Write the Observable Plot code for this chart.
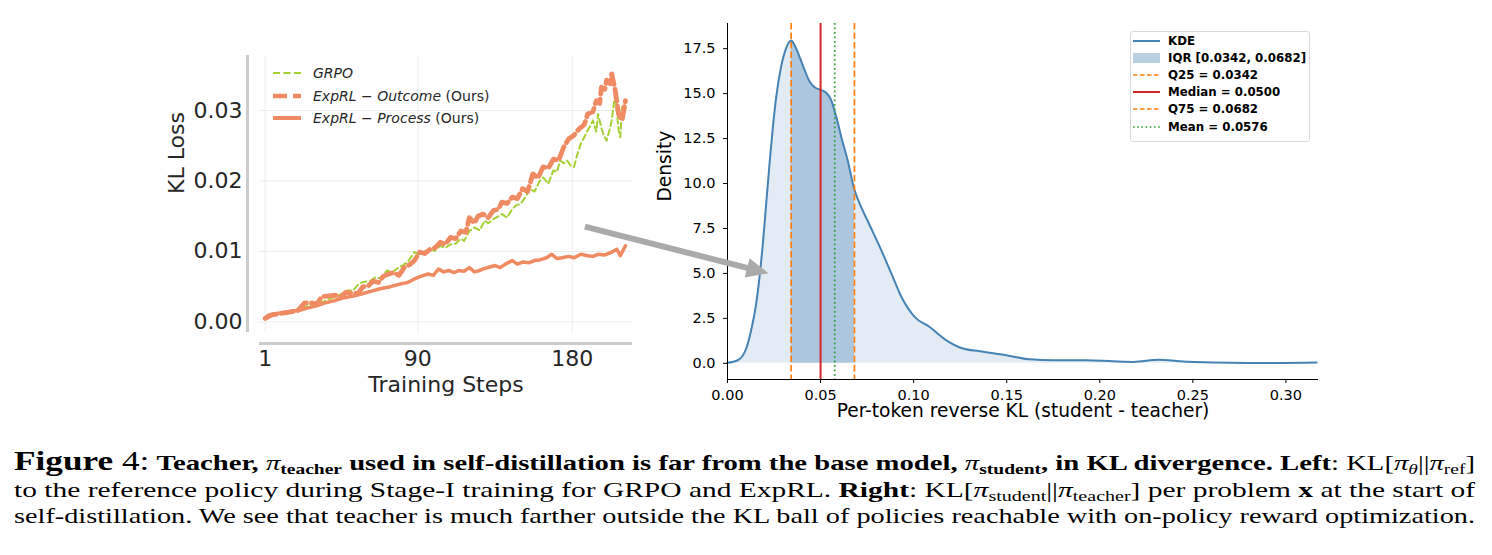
<!DOCTYPE html>
<html>
<head>
<meta charset="utf-8">
<script src="https://cdn.jsdelivr.net/npm/d3@7"></script>
<script src="https://cdn.jsdelivr.net/npm/@observablehq/plot@0.6"></script>
<style>
  body { margin: 0; background: #fff; }
  #fig { position: relative; width: 1492px; height: 555px; overflow: hidden; font-family: "DejaVu Sans", sans-serif; background: #fff; }
  #left, #right { position: absolute; }
  #left { left: 140px; top: 40px; }
  #right { left: 560px; top: 0px; }
  .legrow { position: absolute; display: flex; align-items: center; white-space: nowrap; }
  .legrow svg { display: block; flex: none; }
  #lleg .legrow { font-size: 14px; color: #262626; }
  #rleg { position: absolute; left: 1130px; top: 31px; width: 180px; height: 111px; border: 1px solid #d9d9d9; border-radius: 3px; box-sizing: border-box; background: rgba(255,255,255,0.8); }
  #rleg .legrow { font-size: 11.8px; font-weight: bold; color: #000; }
  #caption { position: absolute; left: 14px; top: 450px; width: 1461px; font-family: "Liberation Serif", serif; font-size: 22px; line-height: 26.5px; color: #000; }
  #caption .ln { height: 26.5px; white-space: nowrap; }
  #caption .in { display: inline-block; transform-origin: 0 50%; white-space: nowrap; }
  #caption .figw { font-size: 27px; font-weight: bold; line-height: 0; }
  #caption .fign { font-size: 27px; line-height: 0; }
  #caption sub { font-size: 0.68em; vertical-align: -0.25em; line-height: 0; }
  #caption i.m { font-weight: normal; }
</style>
</head>
<body>
<div id="fig">
  <div id="left"></div>
  <div id="right"></div>
  <div id="lleg"></div>
  <div id="rleg"></div>
  <div id="caption">
    <div class="ln"><span class="in"><span class="figw">Figure</span><span class="fign"> 4:</span> <b>Teacher, <i class="m">π</i><sub>teacher</sub> used in self-distillation is far from the base model, <i class="m">π</i><sub>student</sub>, in KL divergence. Left</b>: KL[<i>π</i><sub><i>θ</i></sub>||<i>π</i><sub>ref</sub>]</span></div>
    <div class="ln"><span class="in">to the reference policy during Stage-I training for GRPO and ExpRL. <b>Right</b>: KL[<i>π</i><sub>student</sub>||<i>π</i><sub>teacher</sub>] per problem <b>x</b> at the start of</span></div>
    <div class="ln"><span class="in">self-distillation. We see that teacher is much farther outside the KL ball of policies reachable with on-policy reward optimization.</span></div>
  </div>
</div>
<script>
// ---------------- LEFT CHART DATA (KL Loss vs Training Steps) ----------------
const stepsGRPO = [1,5,10,15,20,25,30,34,38,42,46,49,52,56,59,62,65,68,72,75,78,81,84,88,91,94,97,100,103,106,109,112,115,117,120,123,126,129,131,134,137,139,142,145,147,150,153,155,158,161,163,166,169,171,173,175,177,179,181,183,185,187,189,191,192,194,195,197,198,200,202,203,205,207,208,209,211];
const klGRPO = [0.0005,0.0010,0.0013,0.0015,0.0018,0.0022,0.0027,0.0028,0.0032,0.0036,0.0040,0.0045,0.0044,0.0055,0.0057,0.0058,0.0063,0.0062,0.0073,0.0070,0.0076,0.0080,0.0085,0.0099,0.0095,0.0100,0.0103,0.0101,0.0108,0.0105,0.0110,0.0111,0.0118,0.0115,0.0129,0.0134,0.0130,0.0144,0.0140,0.0146,0.0150,0.0153,0.0148,0.0160,0.0165,0.0168,0.0178,0.0189,0.0185,0.0200,0.0205,0.0196,0.0215,0.0213,0.0229,0.0225,0.0229,0.0222,0.0220,0.0238,0.0253,0.0262,0.0272,0.0280,0.0286,0.0270,0.0295,0.0275,0.0267,0.0257,0.0275,0.0286,0.0324,0.0272,0.0262,0.0305,0.0300];

const stepsOutcome = [1,5,10,15,20,24,28,31,34,38,42,45,48,52,55,58,61,64,67,70,73,76,79,82,85,88,91,94,97,100,103,106,109,112,115,118,120,123,125,128,131,134,137,139,142,145,148,151,154,157,160,163,166,169,172,175,178,181,184,187,189,192,194,196,197,199,200,202,203,205,207,209,211];
const klOutcome = [0.0005,0.0010,0.0012,0.0014,0.0016,0.0027,0.0027,0.0025,0.0036,0.0037,0.0038,0.0035,0.0042,0.0041,0.0040,0.0050,0.0051,0.0058,0.0056,0.0065,0.0068,0.0070,0.0066,0.0077,0.0081,0.0087,0.0099,0.0097,0.0103,0.0105,0.0113,0.0110,0.0120,0.0118,0.0129,0.0127,0.0148,0.0140,0.0150,0.0153,0.0148,0.0158,0.0160,0.0170,0.0168,0.0177,0.0175,0.0189,0.0185,0.0210,0.0204,0.0220,0.0218,0.0231,0.0229,0.0248,0.0260,0.0265,0.0274,0.0280,0.0295,0.0298,0.0314,0.0310,0.0333,0.0330,0.0343,0.0338,0.0352,0.0329,0.0295,0.0286,0.0314];

const stepsProcess = [1,3,8,16,22,26,31,36,41,46,51,56,62,68,74,80,84,88,92,96,99,102,105,108,111,114,117,120,123,126,129,132,135,138,141,145,148,151,155,158,161,165,168,171,174,178,181,185,189,192,195,199,203,206,208,211];
const klProcess = [0.0005,0.0010,0.0012,0.0015,0.0017,0.0020,0.0023,0.0027,0.0030,0.0034,0.0036,0.0039,0.0043,0.0047,0.0050,0.0054,0.0056,0.0061,0.0065,0.0068,0.0066,0.0075,0.0071,0.0073,0.0070,0.0073,0.0072,0.0077,0.0071,0.0073,0.0076,0.0078,0.0080,0.0077,0.0082,0.0087,0.0082,0.0085,0.0084,0.0087,0.0088,0.0091,0.0096,0.0090,0.0091,0.0093,0.0091,0.0096,0.0094,0.0093,0.0096,0.0095,0.0099,0.0103,0.0094,0.0108];

const leftXTicks = [1, 90, 180];
const leftYTicks = [0, 0.01, 0.02, 0.03];
const leftSeriesNames = ["GRPO", "ExpRL − Outcome", "ExpRL − Process"];

// ---------------- RIGHT CHART DATA (KDE of per-token reverse KL) ----------------
const kdeX = [0, 0.0055, 0.0100, 0.0127, 0.0154, 0.0172, 0.0190, 0.0208, 0.0226, 0.0244, 0.0262, 0.0288, 0.0315, 0.0342, 0.0360, 0.0387, 0.0414, 0.0441, 0.0468, 0.0504, 0.0530, 0.0557, 0.0584, 0.0611, 0.0647, 0.0682, 0.0701, 0.0754, 0.0826, 0.0880, 0.0934, 0.1005, 0.1086, 0.1176, 0.1265, 0.1355, 0.1498, 0.1624, 0.1750, 0.1930, 0.2072, 0.2180, 0.2320, 0.2430, 0.2610, 0.2790, 0.2970, 0.3165];
const kdeDensity = [0.03, 0.17, 0.81, 1.84, 3.32, 4.8, 6.66, 8.89, 11.12, 13.16, 14.83, 16.5, 17.52, 17.95, 17.7, 17.05, 16.32, 15.67, 15.35, 15.2, 15.05, 14.64, 13.72, 12.6, 11.23, 9.65, 9.1, 7.9, 6.3, 5.0, 3.7, 2.58, 2.02, 1.28, 0.82, 0.67, 0.45, 0.22, 0.17, 0.17, 0.11, 0.08, 0.2, 0.11, 0.04, 0.02, 0.02, 0.04];
const q25 = 0.0342, medianKL = 0.0500, q75 = 0.0682, meanKL = 0.0576;
const rightXTicks = [0, 0.05, 0.10, 0.15, 0.20, 0.25, 0.30];
const rightYTicks = [0, 2.5, 5, 7.5, 10, 12.5, 15, 17.5];
const rightLegendLabels = ["KDE", "IQR [0.0342, 0.0682]", "Q25 = 0.0342", "Median = 0.0500", "Q75 = 0.0682", "Mean = 0.0576"];

// annotation arrow (in right-chart data units): from left panel to the KDE
const arrowTail = {x: -0.0766, y: 7.60};
const arrowTip = {x: 0.0220, y: 5.01};

// ---------------- styles ----------------
const cGRPO = "#a6cf35", cSalmon = "#ef8a62";
const cKDE = "steelblue", cOrange = "#ff7f0e", cRed = "#d62728", cGreen = "#2ca02c";

const zip = (xs, ys) => xs.map((x, i) => ({x, y: ys[i]}));
const grpo = zip(stepsGRPO, klGRPO);
const outcome = zip(stepsOutcome, klOutcome);
const process = zip(stepsProcess, klProcess);

const lxDom = [-2.3, 215.1], lyDom = [-0.0015, 0.0378];

const left = Plot.plot({
  width: 510, height: 370,
  marginLeft: 119, marginRight: 18, marginTop: 15, marginBottom: 78,
  style: {background: "transparent", overflow: "visible", fontFamily: "DejaVu Sans", color: "#262626"},
  x: {domain: lxDom},
  y: {domain: lyDom},
  marks: [
    Plot.gridX(leftXTicks, {stroke: "#ececec", strokeOpacity: 1, strokeWidth: 1}),
    Plot.gridY(leftYTicks, {stroke: "#ececec", strokeOpacity: 1, strokeWidth: 1}),
    Plot.ruleX([lxDom[0]], {dx: -12, stroke: "#cccccc", strokeWidth: 3}),
    Plot.ruleY([lyDom[0]], {dy: 11, stroke: "#cccccc", strokeWidth: 3}),
    Plot.axisX(leftXTicks, {tickSize: 0, tickPadding: 18, fontSize: 22, label: null}),
    Plot.axisY(leftYTicks, {tickSize: 0, tickPadding: 17, fontSize: 22, tickFormat: d => d.toFixed(2), label: null}),
    Plot.text(["Training Steps"], {frameAnchor: "bottom", dy: 52, lineAnchor: "middle", fontSize: 22, fill: "#262626"}),
    Plot.text(["KL Loss"], {frameAnchor: "left", dx: -83, rotate: -90, lineAnchor: "middle", fontSize: 22, fill: "#262626"}),
    Plot.line(grpo, {x: "x", y: "y", stroke: cGRPO, strokeWidth: 2, strokeDasharray: "6,3.5"}),
    Plot.line(outcome, {x: "x", y: "y", stroke: cSalmon, strokeWidth: 4.8, strokeDasharray: "12,5"}),
    Plot.line(process, {x: "x", y: "y", stroke: cSalmon, strokeWidth: 3.5, strokeLinejoin: "round"})
  ]
});
document.getElementById("left").appendChild(left);

const kde = zip(kdeX, kdeDensity);
const iqr = kde.filter(d => d.x >= q25 && d.x <= q75);
const rxDom = [0, 0.3175], ryDom = [-0.9, 18.9];

function rightPlot(extra) {
  return Plot.plot({
    width: 780, height: 430,
    marginLeft: 167, marginRight: 22, marginTop: 23, marginBottom: 51,
    style: {background: "transparent", overflow: "visible", fontFamily: "DejaVu Sans", color: "#000"},
    x: {domain: rxDom},
    y: {domain: ryDom},
    marks: [
      Plot.areaY(kde, {x: "x", y: "y", fill: cKDE, fillOpacity: 0.15, curve: "monotone-x"}),
      Plot.areaY(iqr, {x: "x", y: "y", fill: cKDE, fillOpacity: 0.35, curve: "monotone-x"}),
      Plot.line(kde, {x: "x", y: "y", stroke: cKDE, strokeWidth: 2, curve: "monotone-x"}),
      Plot.ruleX([q25], {stroke: cOrange, strokeWidth: 1.7, strokeDasharray: "6.5,3"}),
      Plot.ruleX([medianKL], {stroke: cRed, strokeWidth: 2}),
      Plot.ruleX([q75], {stroke: cOrange, strokeWidth: 1.7, strokeDasharray: "6.5,3"}),
      Plot.ruleX([meanKL], {stroke: cGreen, strokeWidth: 1.7, strokeDasharray: "1.7,2.8"}),
      Plot.ruleX([rxDom[0]], {stroke: "#000", strokeWidth: 1}),
      Plot.ruleY([ryDom[0]], {stroke: "#000", strokeWidth: 1}),
      Plot.axisX(rightXTicks, {tickSize: 4, tickPadding: 6, fontSize: 14.5, tickFormat: d => d.toFixed(2), label: null}),
      Plot.axisY(rightYTicks, {tickSize: 4, tickPadding: 8, fontSize: 14.5, tickFormat: d => d.toFixed(1), label: null}),
      Plot.text(["Per-token reverse KL (student - teacher)"], {frameAnchor: "bottom", dy: 32, lineAnchor: "middle", fontSize: 18.6}),
      Plot.text(["Density"], {frameAnchor: "left", dx: -62, rotate: -90, lineAnchor: "middle", fontSize: 18.6}),
      ...extra
    ]
  });
}
const probe = rightPlot([]);
const sx = probe.scale("x"), sy = probe.scale("y");
const adx = sx.apply(arrowTip.x) - sx.apply(arrowTail.x);
const ady = sy.apply(arrowTip.y) - sy.apply(arrowTail.y);
const aLen = Math.hypot(adx, ady);
const aRot = Math.atan2(adx, -ady) * 180 / Math.PI;
const arrowShape = {
  draw(ctx, l) {
    const w = 3, hl = 22, hw = 10;
    ctx.moveTo(-w, 0);
    ctx.lineTo(-w, -(l - hl));
    ctx.lineTo(-hw, -(l - hl));
    ctx.lineTo(0, -l);
    ctx.lineTo(hw, -(l - hl));
    ctx.lineTo(w, -(l - hl));
    ctx.lineTo(w, 0);
    ctx.closePath();
  }
};
const right = rightPlot([
  Plot.vector([arrowTip], {x: "x", y: "y", length: aLen, rotate: aRot, anchor: "end", shape: arrowShape, fill: "#aaaaaa", stroke: "none"})
]);
document.getElementById("right").appendChild(right);

// ---------------- legends ----------------
function handleSvg(kind, w, h) {
  const ns = "http://www.w3.org/2000/svg";
  const s = document.createElementNS(ns, "svg");
  s.setAttribute("width", w); s.setAttribute("height", h);
  const mk = (tag, attrs) => { const e = document.createElementNS(ns, tag); for (const k in attrs) e.setAttribute(k, attrs[k]); s.appendChild(e); };
  const line = (stroke, sw, dash) => mk("line", {x1: 0, x2: w, y1: h / 2, y2: h / 2, stroke, "stroke-width": sw, ...(dash ? {"stroke-dasharray": dash} : {})});
  switch (kind) {
    case "grpo": line(cGRPO, 2, "7,3.5"); break;
    case "outcome": line(cSalmon, 4.5, "14,6"); break;
    case "process": line(cSalmon, 4, null); break;
    case "kde": line(cKDE, 2, null); break;
    case "iqr": mk("rect", {x: 0, y: h / 2 - 5, width: w, height: 10, fill: cKDE, "fill-opacity": 0.38}); break;
    case "q": line(cOrange, 1.7, "4.5,2.5"); break;
    case "median": line(cRed, 2, null); break;
    case "mean": line(cGreen, 1.7, "1.6,2.6"); break;
  }
  return s;
}
const lleg = document.getElementById("lleg");
const lKinds = ["grpo", "outcome", "process"];
leftSeriesNames.forEach((name, i) => {
  const row = document.createElement("div");
  row.className = "legrow";
  row.style.left = "273px";
  row.style.top = (73 + i * 22.5 - 9) + "px";
  row.style.height = "18px";
  row.appendChild(handleSvg(lKinds[i], 28, 12));
  const t = document.createElement("span");
  t.style.marginLeft = "12px";
  const it = document.createElement("i");
  it.textContent = name;
  t.appendChild(it);
  if (i > 0) t.appendChild(document.createTextNode(" (Ours)"));
  row.appendChild(t);
  lleg.appendChild(row);
});
const rleg = document.getElementById("rleg");
const rKinds = ["kde", "iqr", "q", "median", "q", "mean"];
rightLegendLabels.forEach((label, i) => {
  const row = document.createElement("div");
  row.className = "legrow";
  row.style.left = "2px";
  row.style.top = (8.5 + i * 17.2 - 8) + "px";
  row.style.height = "16px";
  row.appendChild(handleSvg(rKinds[i], 27, 12));
  const t = document.createElement("span");
  t.style.marginLeft = "8px";
  t.textContent = label;
  row.appendChild(t);
  rleg.appendChild(row);
});

// ---------------- caption: stretch each line to the full text width (justified look) ----------------
const capWidth = 1461;
document.querySelectorAll("#caption .in").forEach(el => {
  const w = el.getBoundingClientRect().width;
  if (w > 0) el.style.transform = `scaleX(${capWidth / w})`;
});
</script>
</body>
</html>
